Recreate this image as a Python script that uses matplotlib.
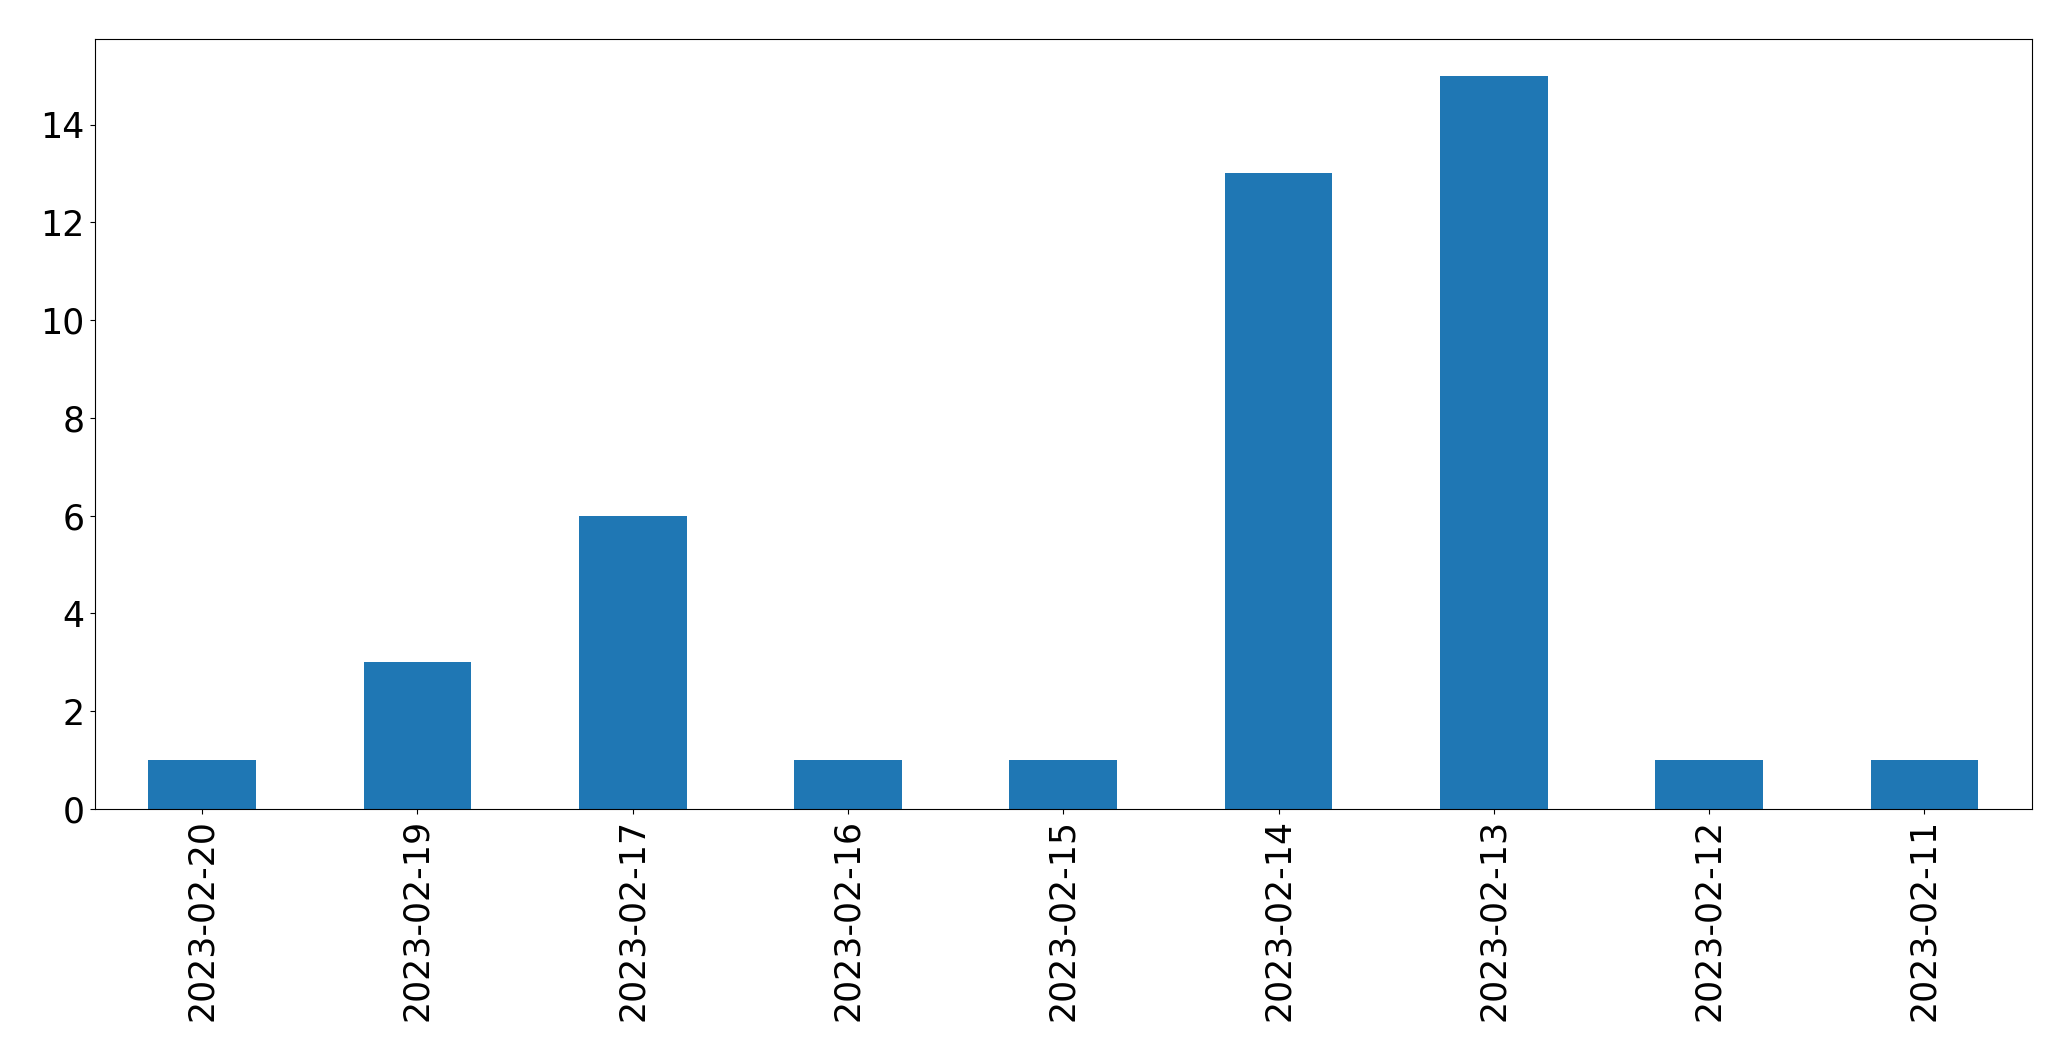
import matplotlib
matplotlib.use("Agg")
import matplotlib.pyplot as plt
import numpy as np

dates = ["2023-02-20", "2023-02-19", "2023-02-17", "2023-02-16", "2023-02-15",
         "2023-02-14", "2023-02-13", "2023-02-12", "2023-02-11"]
counts = [1, 3, 6, 1, 1, 13, 15, 1, 1]

fig = plt.figure(figsize=(20.71, 10.61), dpi=100)
ax = fig.add_axes([94.5 / 2071, 1 - 809 / 1061, (2032 - 94.5) / 2071, (809 - 39) / 1061])
x = np.arange(len(dates))
ax.bar(x, counts, width=0.5, color="#1f77b4")
ax.set_xlim(-0.5, len(dates) - 0.5)
ax.set_ylim(0, max(counts) * 1.05)
ax.set_xticks(x)
ax.set_xticklabels(dates, rotation=90, fontsize=25)
ax.tick_params(axis="y", labelsize=25)
fig.savefig("out.png", dpi=100)
